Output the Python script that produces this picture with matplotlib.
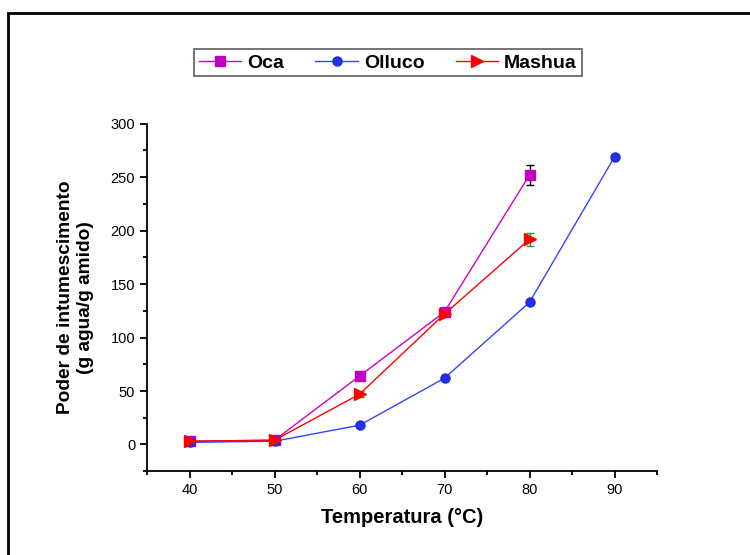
import matplotlib.pyplot as plt
from matplotlib.patches import Rectangle
from matplotlib.ticker import MultipleLocator

plt.rcParams['font.family'] = ['Liberation Sans', 'DejaVu Sans']

# temperatures (°C)
temp_oca = [40, 50, 60, 70, 80]
temp_olluco = [40, 50, 60, 70, 80, 90]
temp_mashua = [40, 50, 60, 70, 80]

# swelling power (g agua / g amido)
oca = [3, 4, 64, 124, 252]
oca_err = [1.5, 1, 2, 2, 9]
olluco = [2, 3, 18, 62, 133, 269]
olluco_err = [1, 1, 1, 1, 1, 2]
mashua = [3, 4, 47, 122, 192]
mashua_err = [2, 2, 3, 2, 6]

fig = plt.figure(figsize=(7.5, 5.55), dpi=100)
ax = fig.add_axes([0.196, 0.151, 0.680, 0.626])

# error bars first so markers sit on top
ax.errorbar(temp_oca, oca, yerr=oca_err, fmt='none', ecolor='black',
            elinewidth=1, capsize=3, zorder=2)
ax.errorbar(temp_olluco, olluco, yerr=olluco_err, fmt='none', ecolor='cyan',
            elinewidth=1, capsize=3, zorder=2)
ax.errorbar(temp_mashua, mashua, yerr=mashua_err, fmt='none', ecolor='#2ca02c',
            elinewidth=1, capsize=3, zorder=2)

ax.plot(temp_oca, oca, color='#cc00cc', lw=1, marker='s', ms=6.5,
        mfc='#c000c0', mec='#c000c0', label='Oca', zorder=3)
ax.plot(temp_olluco, olluco, color='#3344ff', lw=1, marker='o', ms=6.5,
        mfc='#2233ee', mec='#1a2ad0', label='Olluco', zorder=3)
ax.plot(temp_mashua, mashua, color='red', lw=1, marker='>', ms=8.5,
        mfc='red', mec='red', label='Mashua', zorder=4)

ax.set_xlim(35, 95)
ax.set_ylim(-25, 300)
ax.xaxis.set_major_locator(MultipleLocator(10))
ax.xaxis.set_minor_locator(MultipleLocator(5))
ax.yaxis.set_major_locator(MultipleLocator(50))
ax.yaxis.set_minor_locator(MultipleLocator(25))
ax.spines['top'].set_visible(False)
ax.spines['right'].set_visible(False)
for s in ('left', 'bottom'):
    ax.spines[s].set_linewidth(1.3)
ax.tick_params(which='major', length=5, width=1.3, labelsize=10.5)
ax.tick_params(which='minor', length=3, width=1.3)

ax.set_xlabel('Temperatura (°C)', fontsize=14.5, fontweight='bold', labelpad=8)
ax.set_ylabel('Poder de intumescimento\n(g agua/g amido)', fontsize=13.8,
              fontweight='bold', labelpad=12)

leg = fig.legend(loc='center', bbox_to_anchor=(0.517, 0.887), ncol=3,
                 fontsize=14, frameon=True, fancybox=False, handlelength=2.2,
                 columnspacing=1.6, borderpad=0.25, handletextpad=0.3)
leg.get_frame().set_edgecolor('#333333')
leg.get_frame().set_linewidth(1.2)
for t in leg.get_texts():
    t.set_fontweight('bold')

# outer frame (cut off at right and bottom)
fig.add_artist(Rectangle((8 / 750, -0.1), 1.1, 1 - 13 / 555 + 0.1,
                         transform=fig.transFigure, fill=False,
                         edgecolor='black', lw=2, clip_on=False))

fig.savefig('out.png', dpi=100)
